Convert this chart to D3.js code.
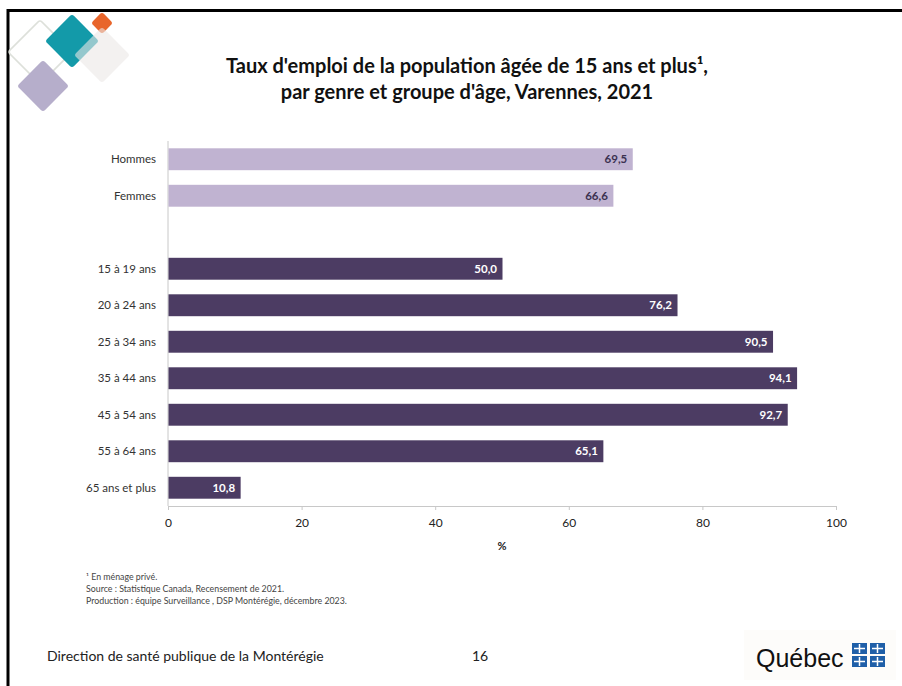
<!DOCTYPE html>
<html><head><meta charset="utf-8">
<script src="https://cdn.jsdelivr.net/npm/d3@7/dist/d3.min.js"></script>
<style>
html,body{margin:0;padding:0;background:#fff;}
svg{display:block;font-family:Lato,"Open Sans",sans-serif;}
</style></head>
<body><svg id="c" width="902" height="686"></svg>
<script>
const categories = ["Hommes","Femmes","","15 à 19 ans","20 à 24 ans","25 à 34 ans","35 à 44 ans","45 à 54 ans","55 à 64 ans","65 ans et plus"];
const values = [69.5, 66.6, null, 50.0, 76.2, 90.5, 94.1, 92.7, 65.1, 10.8];
const groups = ["genre","genre",null,"age","age","age","age","age","age","age"];
const xTicks = [0,20,40,60,80,100];
const titleLines = ["Taux d'emploi de la population âgée de 15 ans et plus¹,","par genre et groupe d'âge, Varennes, 2021"];
const notes = ["¹ En ménage privé.","Source : Statistique Canada, Recensement de 2021.","Production : équipe Surveillance , DSP Montérégie, décembre 2023."];

const colors = {genre:"#c0b3d1", age:"#4c3c63"};
const labelColors = {genre:"#3b3150", age:"#ffffff"};

const svg = d3.select("#c");
// frame
svg.append("line").attr("x1",8).attr("x2",902).attr("y1",10.5).attr("y2",10.5).attr("stroke","#000").attr("stroke-width",3);
svg.append("line").attr("x1",8).attr("x2",8).attr("y1",9).attr("y2",686).attr("stroke","#000").attr("stroke-width",3);

// decorative logo
const deco = svg.append("g");
function diamond(cx,cy,h,fill,stroke,op){
  const s = h*Math.SQRT2;
  deco.append("rect").attr("x",-s/2).attr("y",-s/2).attr("width",s).attr("height",s).attr("rx",3)
    .attr("transform",`translate(${cx},${cy}) rotate(45)`)
    .attr("fill",fill).attr("stroke",stroke||"none").attr("stroke-width",1.5).attr("opacity",op==null?1:op);
}
diamond(40,52,32,"none","#dde0da");
diamond(43,86,26,"#b6aecb");
diamond(72,41,27,"#139aa9");
diamond(102,23,11,"#e8652b");
diamond(102,55,28,"#ebe8e6",null,0.6);

const title = svg.append("text").attr("text-anchor","middle").attr("font-weight","bold").attr("font-size",20).attr("fill","#111");
titleLines.forEach((t,i)=>title.append("tspan").attr("x",467).attr("y",73+i*26).text(t));

const x = d3.scaleLinear().domain([0,100]).range([168,836]);
const y = d3.scaleBand().domain(categories.map((c,i)=>i)).range([141,506]).paddingInner(0.4).paddingOuter(0.2);

// axes
const xAxis = svg.append("g").attr("transform","translate(0,506)")
  .call(d3.axisBottom(x).tickValues(xTicks).tickSize(4).tickPadding(8).tickFormat(d3.format("d")));
xAxis.select(".domain").attr("stroke","#c8c8c8");
xAxis.selectAll(".tick line").attr("stroke","#c8c8c8");
xAxis.selectAll(".tick text").attr("font-size",12).attr("fill","#222").attr("font-family","Lato");

svg.append("line").attr("x1",168).attr("x2",168).attr("y1",141).attr("y2",506).attr("stroke","#c8c8c8");

svg.append("text").attr("x",x(50)).attr("y",550).attr("text-anchor","middle").attr("font-size",11).attr("font-weight","bold").attr("fill","#222").text("%");

const data = categories.map((c,i)=>({c,i,v:values[i],g:groups[i]})).filter(d=>d.v!=null);

svg.append("g").selectAll("rect").data(data).join("rect")
  .attr("x",x(0)+0.5).attr("y",d=>y(d.i)).attr("width",d=>x(d.v)-x(0)).attr("height",y.bandwidth())
  .attr("fill",d=>colors[d.g]);

svg.append("g").selectAll("text").data(data).join("text")
  .attr("x",d=>x(d.v)-5).attr("y",d=>y(d.i)+y.bandwidth()/2).attr("dy","0.35em")
  .attr("text-anchor","end").attr("font-size",11.5).attr("font-weight","bold")
  .attr("fill",d=>labelColors[d.g]).text(d=>d3.format(".1f")(d.v).replace(".",","));

svg.append("g").selectAll("text").data(data).join("text")
  .attr("x",156).attr("y",d=>y(d.i)+y.bandwidth()/2).attr("dy","0.35em")
  .attr("text-anchor","end").attr("font-size",11.5).attr("fill","#333").text(d=>d.c);

const nt = svg.append("text").attr("font-size",8.8).attr("fill","#444");
notes.forEach((t,i)=>nt.append("tspan").attr("x",86).attr("y",580+i*12).text(t));

svg.append("text").attr("x",47).attr("y",661).attr("font-size",14).attr("fill","#222").text("Direction de santé publique de la Montérégie");
svg.append("text").attr("x",472).attr("y",661).attr("font-size",14).attr("fill","#222").text("16");

// Québec logo
const lg = svg.append("g");
lg.append("rect").attr("x",744).attr("y",630).attr("width",152).attr("height",50).attr("fill","#fdfcfa");
lg.append("text").attr("x",756).attr("y",667).attr("font-size",25).attr("fill","#111").attr("font-family","Liberation Sans Narrow, Liberation Sans").text("Québec");
[[852,643],[870,643],[852,656],[870,656]].forEach(([fx,fy])=>{
  lg.append("rect").attr("x",fx).attr("y",fy).attr("width",15).attr("height",11).attr("fill","#1f5fa8");
  lg.append("rect").attr("x",fx+6.75).attr("y",fy+1).attr("width",1.5).attr("height",9).attr("fill","#fff");
  lg.append("rect").attr("x",fx+2).attr("y",fy+4.75).attr("width",11).attr("height",1.5).attr("fill","#fff");
});
</script></body></html>
